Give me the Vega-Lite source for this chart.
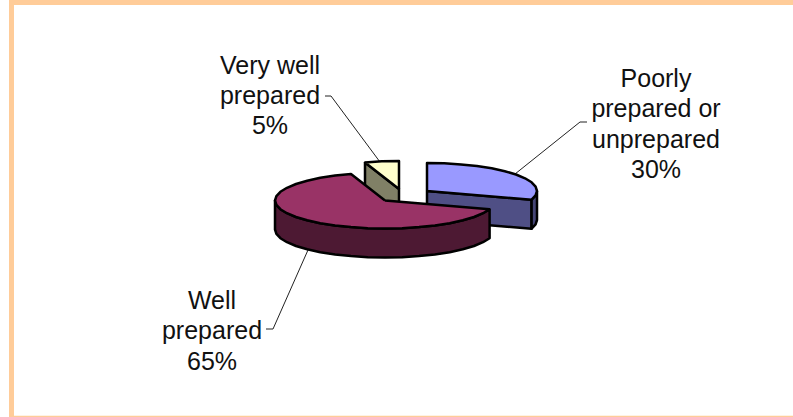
{
  "$schema": "https://vega.github.io/schema/vega-lite/v6.json",
  "width": 793,
  "height": 417,
  "autosize": {"type": "fit", "contains": "padding"},
  "padding": 0,
  "background": "white",
  "view": {"stroke": null},
  "datasets": {
    "frame": [
      {"edge": "left", "x": 9, "x2": 14, "y": 0, "y2": 417},
      {"edge": "top", "x": 9, "x2": 793, "y": 0, "y2": 5},
      {"edge": "bottom", "x": 14, "x2": 793, "y": 415.7, "y2": 417}
    ],
    "pieFaces": [
      {"part": "poorly cut", "seq": 0, "x": 427, "y": 191},
      {"part": "poorly cut", "seq": 1, "x": 531.6, "y": 199.7},
      {"part": "poorly cut", "seq": 2, "x": 531.6, "y": 228.7},
      {"part": "poorly cut", "seq": 3, "x": 427, "y": 220},
      {"part": "poorly cut", "seq": 4, "x": 427, "y": 191},

      {"part": "poorly wall", "seq": 0, "x": 537, "y": 191},
      {"part": "poorly wall", "seq": 1, "x": 535.6, "y": 195.4},
      {"part": "poorly wall", "seq": 2, "x": 531.6, "y": 199.7},
      {"part": "poorly wall", "seq": 3, "x": 531.6, "y": 228.7},
      {"part": "poorly wall", "seq": 4, "x": 535.6, "y": 224.4},
      {"part": "poorly wall", "seq": 5, "x": 537, "y": 220},
      {"part": "poorly wall", "seq": 6, "x": 537, "y": 191},

      {"part": "poorly top", "seq": 0, "x": 427, "y": 191},
      {"part": "poorly top", "seq": 1, "x": 427, "y": 163},
      {"part": "poorly top", "seq": 2, "x": 444.2, "y": 163.3},
      {"part": "poorly top", "seq": 3, "x": 461, "y": 164.4},
      {"part": "poorly top", "seq": 4, "x": 476.9, "y": 166.1},
      {"part": "poorly top", "seq": 5, "x": 491.7, "y": 168.3},
      {"part": "poorly top", "seq": 6, "x": 504.8, "y": 171.2},
      {"part": "poorly top", "seq": 7, "x": 516, "y": 174.5},
      {"part": "poorly top", "seq": 8, "x": 525, "y": 178.3},
      {"part": "poorly top", "seq": 9, "x": 531.6, "y": 182.3},
      {"part": "poorly top", "seq": 10, "x": 535.6, "y": 186.6},
      {"part": "poorly top", "seq": 11, "x": 537, "y": 191},
      {"part": "poorly top", "seq": 12, "x": 535.6, "y": 195.4},
      {"part": "poorly top", "seq": 13, "x": 531.6, "y": 199.7},
      {"part": "poorly top", "seq": 14, "x": 427, "y": 191},

      {"part": "very well cut", "seq": 0, "x": 365, "y": 162.4},
      {"part": "very well cut", "seq": 1, "x": 399, "y": 189},
      {"part": "very well cut", "seq": 2, "x": 399, "y": 218},
      {"part": "very well cut", "seq": 3, "x": 365, "y": 191.4},
      {"part": "very well cut", "seq": 4, "x": 365, "y": 162.4},

      {"part": "very well top", "seq": 0, "x": 399, "y": 189},
      {"part": "very well top", "seq": 1, "x": 365, "y": 162.4},
      {"part": "very well top", "seq": 2, "x": 381.8, "y": 161.3},
      {"part": "very well top", "seq": 3, "x": 399, "y": 161},
      {"part": "very well top", "seq": 4, "x": 399, "y": 189},

      {"part": "well wall", "seq": 0, "x": 489.6, "y": 209.2},
      {"part": "well wall", "seq": 1, "x": 483, "y": 213.2},
      {"part": "well wall", "seq": 2, "x": 474, "y": 217},
      {"part": "well wall", "seq": 3, "x": 462.8, "y": 220.3},
      {"part": "well wall", "seq": 4, "x": 449.7, "y": 223.2},
      {"part": "well wall", "seq": 5, "x": 434.9, "y": 225.4},
      {"part": "well wall", "seq": 6, "x": 419, "y": 227.1},
      {"part": "well wall", "seq": 7, "x": 402.2, "y": 228.2},
      {"part": "well wall", "seq": 8, "x": 385, "y": 228.5},
      {"part": "well wall", "seq": 9, "x": 367.8, "y": 228.2},
      {"part": "well wall", "seq": 10, "x": 351, "y": 227.1},
      {"part": "well wall", "seq": 11, "x": 335.1, "y": 225.4},
      {"part": "well wall", "seq": 12, "x": 320.3, "y": 223.2},
      {"part": "well wall", "seq": 13, "x": 307.2, "y": 220.3},
      {"part": "well wall", "seq": 14, "x": 296, "y": 217},
      {"part": "well wall", "seq": 15, "x": 287, "y": 213.2},
      {"part": "well wall", "seq": 16, "x": 280.4, "y": 209.2},
      {"part": "well wall", "seq": 17, "x": 276.4, "y": 204.9},
      {"part": "well wall", "seq": 18, "x": 275, "y": 200.5},
      {"part": "well wall", "seq": 19, "x": 275, "y": 229.5},
      {"part": "well wall", "seq": 20, "x": 276.4, "y": 233.9},
      {"part": "well wall", "seq": 21, "x": 280.4, "y": 238.2},
      {"part": "well wall", "seq": 22, "x": 287, "y": 242.2},
      {"part": "well wall", "seq": 23, "x": 296, "y": 246},
      {"part": "well wall", "seq": 24, "x": 307.2, "y": 249.3},
      {"part": "well wall", "seq": 25, "x": 320.3, "y": 252.2},
      {"part": "well wall", "seq": 26, "x": 335.1, "y": 254.4},
      {"part": "well wall", "seq": 27, "x": 351, "y": 256.1},
      {"part": "well wall", "seq": 28, "x": 367.8, "y": 257.2},
      {"part": "well wall", "seq": 29, "x": 385, "y": 257.5},
      {"part": "well wall", "seq": 30, "x": 402.2, "y": 257.2},
      {"part": "well wall", "seq": 31, "x": 419, "y": 256.1},
      {"part": "well wall", "seq": 32, "x": 434.9, "y": 254.4},
      {"part": "well wall", "seq": 33, "x": 449.7, "y": 252.2},
      {"part": "well wall", "seq": 34, "x": 462.8, "y": 249.3},
      {"part": "well wall", "seq": 35, "x": 474, "y": 246},
      {"part": "well wall", "seq": 36, "x": 483, "y": 242.2},
      {"part": "well wall", "seq": 37, "x": 489.6, "y": 238.2},
      {"part": "well wall", "seq": 38, "x": 489.6, "y": 209.2},

      {"part": "well top", "seq": 0, "x": 385, "y": 200.5},
      {"part": "well top", "seq": 1, "x": 489.6, "y": 209.2},
      {"part": "well top", "seq": 2, "x": 483, "y": 213.2},
      {"part": "well top", "seq": 3, "x": 474, "y": 217},
      {"part": "well top", "seq": 4, "x": 462.8, "y": 220.3},
      {"part": "well top", "seq": 5, "x": 449.7, "y": 223.2},
      {"part": "well top", "seq": 6, "x": 434.9, "y": 225.4},
      {"part": "well top", "seq": 7, "x": 419, "y": 227.1},
      {"part": "well top", "seq": 8, "x": 402.2, "y": 228.2},
      {"part": "well top", "seq": 9, "x": 385, "y": 228.5},
      {"part": "well top", "seq": 10, "x": 367.8, "y": 228.2},
      {"part": "well top", "seq": 11, "x": 351, "y": 227.1},
      {"part": "well top", "seq": 12, "x": 335.1, "y": 225.4},
      {"part": "well top", "seq": 13, "x": 320.3, "y": 223.2},
      {"part": "well top", "seq": 14, "x": 307.2, "y": 220.3},
      {"part": "well top", "seq": 15, "x": 296, "y": 217},
      {"part": "well top", "seq": 16, "x": 287, "y": 213.2},
      {"part": "well top", "seq": 17, "x": 280.4, "y": 209.2},
      {"part": "well top", "seq": 18, "x": 276.4, "y": 204.9},
      {"part": "well top", "seq": 19, "x": 275, "y": 200.5},
      {"part": "well top", "seq": 20, "x": 276.4, "y": 196.1},
      {"part": "well top", "seq": 21, "x": 280.4, "y": 191.8},
      {"part": "well top", "seq": 22, "x": 287, "y": 187.8},
      {"part": "well top", "seq": 23, "x": 296, "y": 184},
      {"part": "well top", "seq": 24, "x": 307.2, "y": 180.7},
      {"part": "well top", "seq": 25, "x": 320.3, "y": 177.8},
      {"part": "well top", "seq": 26, "x": 335.1, "y": 175.6},
      {"part": "well top", "seq": 27, "x": 351, "y": 173.9},
      {"part": "well top", "seq": 28, "x": 385, "y": 200.5}
    ],
    "leaders": [
      {"slice": "Poorly", "seq": 0, "x": 587, "y": 122},
      {"slice": "Poorly", "seq": 1, "x": 580, "y": 122},
      {"slice": "Poorly", "seq": 2, "x": 515, "y": 174},
      {"slice": "Very well", "seq": 0, "x": 325, "y": 96},
      {"slice": "Very well", "seq": 1, "x": 331, "y": 96},
      {"slice": "Very well", "seq": 2, "x": 380, "y": 162},
      {"slice": "Well", "seq": 0, "x": 266, "y": 329},
      {"slice": "Well", "seq": 1, "x": 273, "y": 329},
      {"slice": "Well", "seq": 2, "x": 308, "y": 250}
    ],
    "labels": [
      {"label": "Poorly\nprepared or\nunprepared\n30%", "x": 656, "y": 87},
      {"label": "Very well\nprepared\n5%", "x": 270, "y": 73.5},
      {"label": "Well\nprepared\n65%", "x": 212, "y": 309}
    ]
  },
  "encoding": {
    "x": {"field": "x", "type": "quantitative", "axis": null, "scale": {"domain": [0, 793], "nice": false, "zero": false}},
    "y": {"field": "y", "type": "quantitative", "axis": null, "scale": {"domain": [417, 0], "nice": false, "zero": false}}
  },
  "layer": [
    {
      "data": {"name": "frame"},
      "mark": {"type": "rect", "color": "#FFCC99"},
      "encoding": {
        "x2": {"field": "x2"},
        "y2": {"field": "y2"},
        "opacity": {
          "field": "edge", "type": "nominal", "legend": null,
          "scale": {"domain": ["left", "top", "bottom"], "range": [1, 1, 0.6]}
        }
      }
    },
    {
      "data": {"name": "leaders"},
      "mark": {"type": "line", "stroke": "#222222", "strokeWidth": 1},
      "encoding": {
        "detail": {"field": "slice"},
        "order": {"field": "seq", "type": "quantitative"}
      }
    },
    {
      "data": {"name": "pieFaces"},
      "mark": {"type": "line", "stroke": "black", "strokeWidth": 2.5, "strokeJoin": "round"},
      "encoding": {
        "fill": {
          "field": "part", "type": "nominal", "legend": null,
          "scale": {
            "domain": ["poorly cut", "poorly wall", "poorly top", "very well cut", "very well top", "well wall", "well top"],
            "range": ["#4F4F85", "#454575", "#9999FF", "#808066", "#FFFFCC", "#4D1933", "#993366"]
          }
        },
        "order": {"field": "seq", "type": "quantitative"}
      }
    },
    {
      "data": {"name": "labels"},
      "mark": {
        "type": "text", "font": "Liberation Sans", "fontSize": 25, "lineHeight": 30.3,
        "lineBreak": "\n", "align": "center", "baseline": "alphabetic", "color": "#111111"
      },
      "encoding": {"text": {"field": "label"}}
    }
  ]
}
